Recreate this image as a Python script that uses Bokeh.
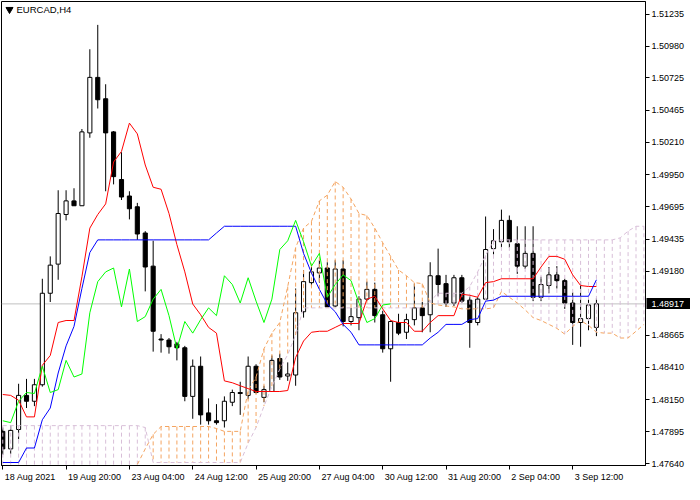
from bokeh.plotting import figure
from bokeh.models import (ColumnDataSource, FixedTicker, NumeralTickFormatter,
                          Label, Span, Range1d, LinearAxis)
from bokeh.embed import file_html
from bokeh.resources import INLINE

# ---------------- data ----------------
symbol = "EURCAD,H4"
x_tick_bars = [0, 8, 16, 24, 32, 40, 48, 56, 64, 72]
x_tick_labels = ["18 Aug 2021", "19 Aug 20:00", "23 Aug 04:00", "24 Aug 12:00",
                 "25 Aug 20:00", "27 Aug 04:00", "30 Aug 12:00", "31 Aug 20:00",
                 "2 Sep 04:00", "3 Sep 12:00"]
y_ticks = [1.47640, 1.47895, 1.48150, 1.48410, 1.48665, 1.49180, 1.49435,
           1.49695, 1.49950, 1.50210, 1.50465, 1.50725, 1.50980, 1.51235]
last_price = 1.48917
chikou_shift = 26

open_ = [1.47897, 1.47757, 1.47912, 1.48185, 1.48138, 1.48270, 1.49002, 1.49235, 1.49632, 1.49741,
         1.49702, 1.50285, 1.50729, 1.50558, 1.50293, 1.49912, 1.49780, 1.49694, 1.49484, 1.49219,
         1.48636, 1.48628, 1.48597, 1.48566, 1.48177, 1.48418, 1.48045, 1.47982, 1.47982, 1.48130,
         1.48208, 1.48185, 1.48418, 1.48169, 1.48216, 1.48480, 1.48340, 1.48348, 1.48854, 1.49087,
         1.49165, 1.49204, 1.48900, 1.49196, 1.48776, 1.48807, 1.48955, 1.49033, 1.48830, 1.48558,
         1.48768, 1.48690, 1.48791, 1.48885, 1.48830, 1.49142, 1.49079, 1.48924, 1.49126, 1.48947,
         1.48768, 1.48955, 1.49359, 1.49414, 1.49585, 1.49398, 1.49219, 1.49321, 1.48970, 1.49064,
         1.49149, 1.49103, 1.48924, 1.48768, 1.48799, 1.48729]
high = [1.47928, 1.47943, 1.48278, 1.48317, 1.48317, 1.49118, 1.49297, 1.49826, 1.49826, 1.49842,
        1.50316, 1.50954, 1.51149, 1.50674, 1.50300, 1.50130, 1.49818, 1.49725, 1.49499, 1.49422,
        1.48675, 1.48644, 1.48613, 1.48581, 1.48472, 1.48496, 1.48161, 1.48115, 1.48177, 1.48231,
        1.48294, 1.48496, 1.48434, 1.48262, 1.48504, 1.48519, 1.48449, 1.49040, 1.49188, 1.49212,
        1.49266, 1.49250, 1.49266, 1.49266, 1.48885, 1.48978, 1.49095, 1.49087, 1.48862, 1.48784,
        1.48838, 1.48838, 1.49079, 1.48932, 1.49250, 1.49359, 1.49149, 1.49149, 1.49149, 1.48978,
        1.48970, 1.49616, 1.49515, 1.49671, 1.49624, 1.49538, 1.49538, 1.49538, 1.49134, 1.49212,
        1.49219, 1.49118, 1.49009, 1.49095, 1.48963, 1.48963]
low = [1.47710, 1.47718, 1.47835, 1.48084, 1.48099, 1.48255, 1.48932, 1.49110, 1.49585, 1.49702,
       1.49702, 1.50246, 1.50480, 1.49818, 1.49873, 1.49748, 1.49593, 1.49429, 1.49017, 1.48535,
       1.48527, 1.48519, 1.48465, 1.48138, 1.47998, 1.47951, 1.47951, 1.47951, 1.47928, 1.48099,
       1.48029, 1.48154, 1.48200, 1.48130, 1.48216, 1.48309, 1.48301, 1.48262, 1.48807, 1.49056,
       1.49087, 1.48893, 1.48893, 1.48737, 1.48745, 1.48706, 1.48939, 1.48768, 1.48527, 1.48294,
       1.48667, 1.48636, 1.48745, 1.48690, 1.48690, 1.48978, 1.48893, 1.48900, 1.48924, 1.48566,
       1.48745, 1.48950, 1.49313, 1.49367, 1.49367, 1.49157, 1.49196, 1.48939, 1.48939, 1.49002,
       1.49040, 1.48877, 1.48589, 1.48574, 1.48706, 1.48659]
close = [1.47757, 1.47905, 1.48185, 1.48138, 1.48270, 1.49002, 1.49227, 1.49640, 1.49741, 1.49702,
         1.50293, 1.50729, 1.50550, 1.50285, 1.49935, 1.49772, 1.49678, 1.49476, 1.49212, 1.48698,
         1.48628, 1.48574, 1.48566, 1.48177, 1.48418, 1.48029, 1.47982, 1.47967, 1.48138, 1.48208,
         1.48200, 1.48418, 1.48208, 1.48231, 1.48465, 1.48332, 1.48356, 1.48846, 1.49095, 1.49173,
         1.49204, 1.48893, 1.49196, 1.48776, 1.48815, 1.48955, 1.49033, 1.48823, 1.48558, 1.48776,
         1.48683, 1.48791, 1.48885, 1.48823, 1.49142, 1.49072, 1.48924, 1.49126, 1.48939, 1.48768,
         1.48955, 1.49352, 1.49422, 1.49585, 1.49414, 1.49219, 1.49321, 1.48970, 1.49072, 1.49149,
         1.49103, 1.48924, 1.48768, 1.48799, 1.48908, 1.48917]

tenkan = [1.48192, 1.48185, 1.48146, 1.48013, 1.48013, 1.48426, 1.48504, 1.48768, 1.48784, 1.48784,
          1.49134, 1.49523, 1.49632, 1.49717, 1.50052, 1.50137, 1.50363, 1.50277, 1.50028, 1.49850,
          1.49834, 1.49640, 1.49391, 1.49173, 1.48916, 1.48830, 1.48729, 1.48683, 1.48301, 1.48286,
          1.48262, 1.48239, 1.48216, 1.48216, 1.48216, 1.48216, 1.48224, 1.48488, 1.48620, 1.48690,
          1.48698, 1.48698, 1.48729, 1.48760, 1.48760, 1.48760, 1.48955, 1.48978, 1.48877, 1.48784,
          1.48768, 1.48768, 1.48698, 1.48698, 1.48768, 1.48823, 1.48823, 1.48823, 1.48994, 1.48986,
          1.48970, 1.49087, 1.49095, 1.49118, 1.49118, 1.49118, 1.49118, 1.49118, 1.49212, 1.49297,
          1.49297, 1.49274, 1.49149, 1.49064, 1.49056, 1.49056]
kijun = [1.47648, 1.47648, 1.47648, 1.47764, 1.47764, 1.47990, 1.48084, 1.48364, 1.48581, 1.48737,
         1.49040, 1.49328, 1.49429, 1.49429, 1.49429, 1.49429, 1.49429, 1.49429, 1.49429, 1.49429,
         1.49429, 1.49429, 1.49429, 1.49429, 1.49429, 1.49429, 1.49429, 1.49484, 1.49538, 1.49538,
         1.49538, 1.49538, 1.49538, 1.49538, 1.49538, 1.49538, 1.49538, 1.49538, 1.49321, 1.49165,
         1.49033, 1.48916, 1.48854, 1.48753, 1.48690, 1.48589, 1.48589, 1.48589, 1.48589, 1.48589,
         1.48589, 1.48589, 1.48589, 1.48589, 1.48644, 1.48690, 1.48753, 1.48753, 1.48753, 1.48791,
         1.48799, 1.48939, 1.48947, 1.48978, 1.48978, 1.48978, 1.48978, 1.48978, 1.48978, 1.48978,
         1.48978, 1.48978, 1.48978, 1.48978, 1.48978, 1.49110]
senkou_a = [1.47520, 1.47520, 1.47520, 1.47520, 1.47520, 1.47520, 1.47520, 1.47520, 1.47520, 1.47520,
            1.47520, 1.47520, 1.47520, 1.47520, 1.47520, 1.47520, 1.47570, 1.47632, 1.47757, 1.47873,
            1.47936, 1.47936, 1.47936, 1.47936, 1.47936, 1.47936, 1.47936, 1.47920, 1.47897, 1.47897,
            1.47897, 1.48224, 1.48332, 1.48558, 1.48683, 1.48768, 1.49056, 1.49367, 1.49523, 1.49577,
            1.49741, 1.49787, 1.49896, 1.49850, 1.49756, 1.49640, 1.49624, 1.49523, 1.49406, 1.49297,
            1.49188, 1.49142, 1.49087, 1.49079, 1.48924, 1.48908, 1.48900, 1.48893, 1.48877, 1.48877,
            1.48877, 1.48877, 1.48885, 1.49017, 1.48970, 1.48924, 1.48869, 1.48807, 1.48784, 1.48753,
            1.48721, 1.48675, 1.48737, 1.48784, 1.48745, 1.48690, 1.48683, 1.48683, 1.48644, 1.48644,
            1.48698, 1.48753]
senkou_b = [1.47943, 1.47943, 1.47943, 1.47943, 1.47943, 1.47943, 1.47943, 1.47943, 1.47943, 1.47943,
            1.47943, 1.47943, 1.47943, 1.47943, 1.47943, 1.47943, 1.47943, 1.47943, 1.47928, 1.47648,
            1.47648, 1.47648, 1.47648, 1.47648, 1.47648, 1.47648, 1.47648, 1.47648, 1.47648, 1.47648,
            1.47648, 1.47803, 1.47928, 1.48099, 1.48255, 1.48395, 1.48511, 1.48667, 1.48885, 1.48885,
            1.48885, 1.48885, 1.48885, 1.48885, 1.48885, 1.48885, 1.48885, 1.48885, 1.48885, 1.48885,
            1.48885, 1.48885, 1.48885, 1.48885, 1.48939, 1.49002, 1.49002, 1.49002, 1.49002, 1.49056,
            1.49173, 1.49305, 1.49422, 1.49429, 1.49429, 1.49429, 1.49429, 1.49429, 1.49429, 1.49429,
            1.49429, 1.49429, 1.49429, 1.49429, 1.49429, 1.49429, 1.49429, 1.49429, 1.49445, 1.49499,
            1.49538, 1.49538]

# ---------------- layout ----------------
W, H = 690, 484
B_LEFT, B_RIGHT, B_TOP, B_BOTTOM = 1, 45, 1, 18
X0, X1 = -0.16, 81.2
Y0, Y1 = 1.47624, 1.51336
FONT = "Liberation Sans"
FSIZE = 9
SANDY, THISTLE = "#F4A460", "#D8BFD8"
DOT = "4 3"

p = figure(width=W, height=H, output_backend="svg", toolbar_location=None,
           x_range=Range1d(X0, X1), y_range=Range1d(Y0, Y1), y_axis_location="right",
           min_border_left=B_LEFT, min_border_right=B_RIGHT,
           min_border_top=B_TOP, min_border_bottom=B_BOTTOM,
           background_fill_color="white", border_fill_color="white")
p.grid.visible = False
p.outline_line_color = "black"
p.outline_line_width = 1

frame_w = W - B_LEFT - B_RIGHT
frame_h = H - B_TOP - B_BOTTOM
ux = (X1 - X0) / frame_w
uy = (Y1 - Y0) / frame_h

# current price line (behind everything)
p.add_layout(Span(location=last_price, dimension="width", line_color="#C0C0C0",
                  line_width=1, level="underlay"))

# candles
n = len(close)
idx = list(range(n))
src = ColumnDataSource(dict(
    x=idx, o=open_, h=high, l=low, c=close,
    top=[max(o, c) for o, c in zip(open_, close)],
    bottom=[min(o, c) for o, c in zip(open_, close)],
    fill=["white" if c > o else "black" for o, c in zip(open_, close)],
))
p.segment(x0="x", y0="l", x1="x", y1="h", source=src, line_color="black", line_width=1)
p.vbar(x="x", width=0.52, top="top", bottom="bottom", fill_color="fill",
       line_color="black", line_width=1, source=src)

# kumo hatch
m = len(senkou_a)
ox, oy0, oy1, tx, ty0, ty1 = [], [], [], [], [], []
for i, (a, b) in enumerate(zip(senkou_a, senkou_b)):
    if a >= b:
        ox.append(i); oy0.append(a); oy1.append(b)
    else:
        tx.append(i); ty0.append(b); ty1.append(a)
p.segment(x0=ox, y0=oy0, x1=ox, y1=oy1, line_color=SANDY, line_width=1, line_dash=DOT)
p.segment(x0=tx, y0=ty0, x1=tx, y1=ty1, line_color=THISTLE, line_width=1, line_dash=DOT)
p.line(list(range(m)), senkou_a, line_color=SANDY, line_width=1, line_dash=DOT)
p.line(list(range(m)), senkou_b, line_color=THISTLE, line_width=1, line_dash=DOT)

# tenkan / kijun / chikou
p.line(idx, tenkan, line_color="#FF0000", line_width=1)
p.line(idx, kijun, line_color="#0000FF", line_width=1)
p.line(list(range(n - chikou_shift)), close[chikou_shift:], line_color="#00FF00", line_width=1)

# title
p.scatter(x=[X0 + 8 * ux], y=[Y1 - 8 * uy], marker="inverted_triangle", size=7,
          fill_color="black", line_color="black")
p.add_layout(Label(x=X0 + 15 * ux, y=Y1 - 8 * uy, text=symbol, text_font=FONT,
                   text_font_size="9.5px", text_color="black", text_baseline="middle"))

# ---------------- axes ----------------
def style(ax):
    ax.minor_tick_line_color = None
    ax.major_label_text_font = FONT
    ax.major_label_text_font_size = f"{FSIZE}px"
    ax.major_label_text_color = "black"

yax = p.yaxis[0]
yax.ticker = FixedTicker(ticks=y_ticks)
yax.formatter = NumeralTickFormatter(format="0.00000")
yax.major_tick_in = 0
yax.major_tick_out = 4
yax.major_label_standoff = 2
yax.axis_line_color = "black"
yax.major_tick_line_color = "black"
style(yax)

# price tag: a second right axis whose single thick tick forms the black box
tag = LinearAxis(ticker=FixedTicker(ticks=[last_price]),
                 formatter=NumeralTickFormatter(format="0.00000"))
tag.axis_line_color = None
tag.major_tick_line_color = "black"
tag.major_tick_line_width = 11
tag.major_tick_in = 41
tag.major_tick_out = 6
tag.major_label_standoff = -42
style(tag)
tag.major_label_text_color = "white"
p.add_layout(tag, "right")

# bottom: tick marks on the main axis, left-aligned labels on a second axis
xax = p.xaxis[0]
xax.ticker = FixedTicker(ticks=x_tick_bars)
xax.major_label_overrides = {b: "" for b in x_tick_bars}
xax.major_tick_in = 0
xax.major_tick_out = 4
xax.major_label_standoff = 0
xax.axis_line_color = "black"
xax.major_tick_line_color = "black"
style(xax)
xax.major_label_text_font_size = "1px"

CHAR_W = {" ": 0.278, ":": 0.278, "A": 0.667, "S": 0.667}
def text_px(s):
    return FSIZE * sum(CHAR_W.get(ch, 0.556) for ch in s)

label_pos = [round(b + (2 + text_px(t) / 2) * ux, 4) for b, t in zip(x_tick_bars, x_tick_labels)]
xlab = LinearAxis(ticker=FixedTicker(ticks=label_pos))
xlab.major_label_overrides = {pos: t for pos, t in zip(label_pos, x_tick_labels)}
xlab.axis_line_color = None
xlab.major_tick_line_color = None
xlab.major_tick_in = 0
xlab.major_tick_out = 0
xlab.major_label_standoff = 2
style(xlab)
p.add_layout(xlab, "below")

open("out.html", "w").write(file_html(p, INLINE))
